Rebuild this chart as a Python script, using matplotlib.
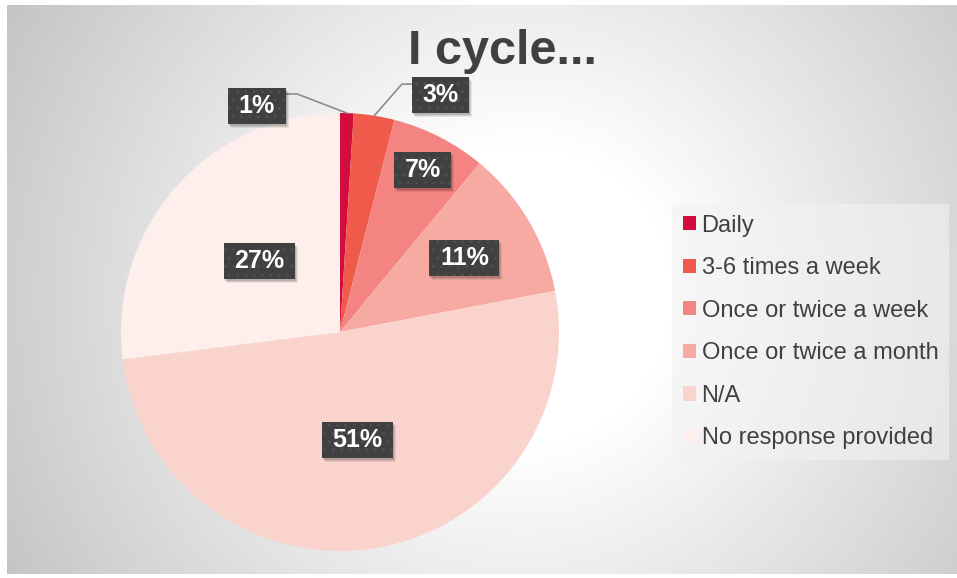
import numpy as np
import matplotlib.pyplot as plt
from matplotlib.patches import Rectangle
from matplotlib.transforms import IdentityTransform

plt.rcParams['font.family'] = ['Liberation Sans', 'DejaVu Sans']

categories = ['Daily', '3-6 times a week', 'Once or twice a week',
              'Once or twice a month', 'N/A', 'No response provided']
shares = [1, 3, 7, 11, 51, 27]
labels = ['1%', '3%', '7%', '11%', '51%', '27%']
colors = ['#D20D3E', '#F05A4B', '#F38482', '#F7AAA2', '#FAD3CD', '#FEEFEC']

fig = plt.figure(figsize=(9.57, 5.78), dpi=100)

# radial gradient backdrop
bg = fig.add_axes([7 / 957, 4 / 578, 950 / 957, 569 / 578])
yy, xx = np.mgrid[0:569, 0:950]
d = np.hypot(xx - 515, yy - 290)
shade = np.clip(1.0 - 0.00052 * np.clip(d - 150, 0, None), 0.75, 1.0)
bg.imshow(np.dstack([shade] * 3), aspect='auto', interpolation='bilinear')
bg.set_axis_off()

cx, cy, r = 340, 332, 219
ax = fig.add_axes([(cx - r) / 957, (578 - cy - r) / 578, 2 * r / 957, 2 * r / 578])
wedges, _ = ax.pie(shares, colors=colors, startangle=90, counterclock=False,
                   radius=1, wedgeprops=dict(linewidth=0))
ax.set_xlim(-1, 1)
ax.set_ylim(-1, 1)
ax.set_axis_off()

# label placement: distance from centre for inside labels
dist = [None, None, 0.83, 0.66, 0.50, 0.49]
outside = {0: ((-0.379, 1.034), (-0.196, 1.087), (-0.26, 1.087)),
           1: ((0.457, 1.080), (0.283, 1.132), (0.33, 1.132))}

texts = []
cum = np.cumsum([0] + shares[:-1])
for i, (s, lab) in enumerate(zip(shares, labels)):
    ang = np.deg2rad(90 - 360 * (cum[i] + s / 2) / sum(shares))
    if i in outside:
        pos, elbow, edge = outside[i]
        px, py = np.cos(ang), np.sin(ang)
        ax.plot([px, elbow[0], edge[0]], [py, elbow[1], edge[1]],
                color='#8C8C8C', lw=1.2, clip_on=False, zorder=3)
    else:
        pos = (dist[i] * np.cos(ang), dist[i] * np.sin(ang))
    t = ax.text(pos[0], pos[1], lab, ha='center', va='center', fontsize=18,
                fontweight='bold', color='white', zorder=5,
                bbox=dict(boxstyle='square,pad=0.42', mutation_aspect=0.57,
                          linewidth=0, facecolor='#404040', edgecolor='#4E4E4E',
                          hatch='..'))
    texts.append(t)

# soft drop shadows under the label boxes
fig.canvas.draw()
for t in texts:
    bb = t.get_bbox_patch().get_window_extent()
    for k, a in ((4, 0.07), (3, 0.10), (2, 0.12)):
        ax.add_artist(Rectangle((bb.x0 + k - 1, bb.y0 - k), bb.width, bb.height,
                                transform=IdentityTransform(), facecolor='black',
                                alpha=a, linewidth=0, zorder=4, clip_on=False))

fig.text(503 / 957, 1 - 52 / 578, 'I cycle...', ha='center', va='center',
         fontsize=35, fontweight='bold', color='#404040')

leg = fig.legend(wedges, categories, loc='center left',
                 bbox_to_anchor=(672 / 957, 1 - 332 / 578), frameon=True,
                 fontsize=17, labelspacing=0.87, handlelength=0.55,
                 handleheight=0.55, handletextpad=0.25, borderpad=0.45,
                 borderaxespad=0, fancybox=False, labelcolor='#404040')
leg.get_frame().set_facecolor('#F2F2F2')
leg.get_frame().set_alpha(0.6)
leg.get_frame().set_linewidth(0)

fig.savefig('out.png', dpi=100, facecolor='white')
